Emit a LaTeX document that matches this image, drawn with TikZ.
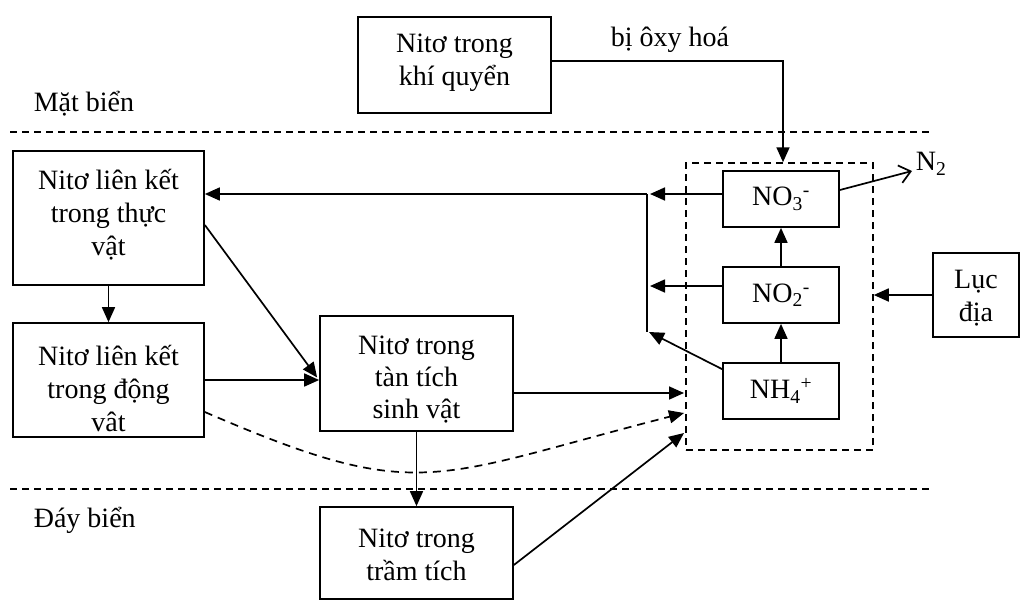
\documentclass[tikz,border=0pt]{standalone}
\usepackage{fontspec}
\setmainfont{Liberation Serif}
\usetikzlibrary{arrows.meta}
\begin{document}
\begin{tikzpicture}[x=1pt,y=-1pt,
  line width=1.7pt,
  box/.style={draw, line width=1.7pt, inner sep=0pt, align=center,
    font=\fontsize{28}{33}\selectfont},
  txt/.style={inner sep=0pt, align=center, font=\fontsize{28}{33}\selectfont},
  arr/.style={-{Triangle[length=15pt,width=13pt]}},
  level/.style={line width=1.5pt, dash pattern=on 7pt off 5pt},
]
\useasboundingbox (0,0) rectangle (1020,600);

% boxes
\node[box, minimum width=193pt, minimum height=96pt] (atm) at (454.5,65) {};
\node[txt] at (454.5,62.5) {Nitơ trong\\khí quyển};
\node[box, minimum width=191pt, minimum height=134pt] (plant) at (108.5,218) {};
\node[txt] at (108.5,215) {Nitơ liên kết\\trong thực\\vật};
\node[box, minimum width=191pt, minimum height=114pt] (animal) at (108.5,380) {};
\node[txt] at (108.5,388) {Nitơ liên kết\\trong động\\vât};
\node[box, minimum width=193pt, minimum height=115pt] (detr) at (416.5,373.5) {};
\node[txt, font=\fontsize{28}{32}\selectfont] at (416.5,380) {Nitơ trong\\tàn tích\\sinh vật};
\node[box, minimum width=193pt, minimum height=92pt] (sed) at (416.5,553) {};
\node[txt] at (416.5,555) {Nitơ trong\\trầm tích};
\node[box, minimum width=116pt, minimum height=56pt] (no3) at (781,199) {NO\textsubscript{3}\textsuperscript{-}};
\node[box, minimum width=116pt, minimum height=56pt] (no2) at (781,295) {NO\textsubscript{2}\textsuperscript{-}};
\node[box, minimum width=116pt, minimum height=56pt] (nh4) at (781,391) {NH\textsubscript{4}\textsuperscript{+}};
\node[box, minimum width=86pt, minimum height=84pt] (land) at (976,295) {};
\node[txt] at (976,298) {Lục\\địa};
\node[draw, level, inner sep=0pt, minimum width=187pt, minimum height=287pt] (pool) at (779.5,306.5) {};

% sea surface and sea floor
\draw[level] (10,132) -- (930,132);
\draw[level] (10,489) -- (930,489);
\node[txt, anchor=west] (surf) at (33,104) {Mặt biển};
\node[txt, anchor=west] (floor) at (33,520) {Đáy biển};

% oxidation of atmospheric nitrogen
\coordinate (corner) at (783,61);
\draw[arr] (atm.east |- corner) -- (corner) -- (corner |- pool.north);
\node[txt] (ox) at (670,40) {bị ôxy hoá};

% uptake by plants
\coordinate (j3) at (647,194);
\coordinate (j2) at (647,286);
\coordinate (j1) at (647,332);
\draw[arr] (no3.west |- j3) -- ([xshift=3pt]j3);
\draw[arr] (j3) -- (plant.east |- j3);
\draw (j3) -- (j1);
\draw[arr] (no2.west |- j2) -- ([xshift=3pt]j2);
\draw[arr] ([yshift=-7pt]nh4.north west) -- ([xshift=2pt]j1);

% nitrification and denitrification
\draw[arr] (nh4.north) -- (no2.south);
\draw[arr] (no2.north) -- (no3.south);
\node[txt, anchor=west] (n2) at (915,164) {N\textsubscript{2}};
\draw[-{Straight Barb[length=11pt,width=18pt]}] ([yshift=9pt]no3.east) -- (912,171);

% input from land
\draw[arr] (land.west) -- (pool.east |- land.west);

% food chain and detritus
\draw[arr] (plant.south) -- (animal.north);
\draw[arr] ([yshift=-7pt]plant.east) -- ([xshift=-2pt,yshift=-4pt]detr.west);
\draw[arr] (animal.east) -- (detr.west |- animal.east);

\coordinate (in1) at (684,393);
\coordinate (in2) at (684,413);
\coordinate (in3) at (684,433);
\draw[arr] (detr.east |- in1) -- (in1);
\draw[arr, dash pattern=on 8pt off 6pt] ([yshift=-32pt]animal.east) .. controls (420,505) and (430,478) .. (in2);
\draw[arr] (detr.south) -- (sed.north);
\draw[arr] ([yshift=-12pt]sed.east) -- (in3);
\end{tikzpicture}
\end{document}
